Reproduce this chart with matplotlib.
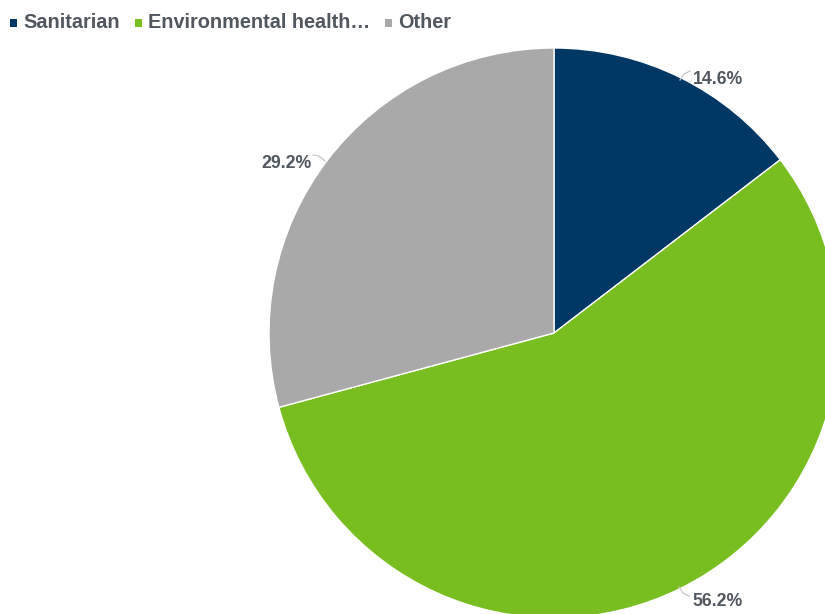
import matplotlib
matplotlib.use("Agg")
import matplotlib.pyplot as plt
from matplotlib.patches import Rectangle

categories = ["Sanitarian", "Environmental health…", "Other"]
values = [14.6, 56.2, 29.2]
labels = ["14.6%", "56.2%", "29.2%"]
colors = ["#003865", "#78BE20", "#A9A9A9"]
text_color = "#50575F"

W, H = 825, 614
fig = plt.figure(figsize=(W / 100, H / 100), dpi=100)
ax = fig.add_axes([0, 0, 1, 1])
ax.set_xlim(0, W)
ax.set_ylim(H, 0)
ax.axis("off")

cx, cy, r = 554, 333, 285
# y axis inverted -> counterclock=True gives visual clockwise
wedges, _ = ax.pie(values, colors=colors, startangle=-90, counterclock=True,
                   center=(cx, cy), radius=r, frame=True,
                   wedgeprops=dict(edgecolor="white", linewidth=1))
ax.set_xlim(0, W)
ax.set_ylim(H, 0)
ax.axis("off")

font = ["Liberation Sans", "DejaVu Sans"]

# data labels with leader lines
label_pos = [(718, 80), (718, 601), (286, 163)]
leaders = [[(680, 80), (684, 74), (690, 71)],
           [(679, 587), (683, 593), (689, 596)],
           [(313, 155), (319, 156), (325, 161)]]
for (tx, ty), lab, ld in zip(label_pos, labels, leaders):
    ax.text(tx, ty, lab, ha="center", va="center", fontsize=12.7,
            fontweight="bold", color=text_color, family=font)
    xs, ys = zip(*ld)
    ax.plot(xs, ys, color="#C8C8C8", lw=0.9)

# legend drawn manually
leg_x = [10, 135, 385]
for x0, cat, col in zip(leg_x, categories, colors):
    ax.add_patch(Rectangle((x0, 19), 7, 8, color=col, lw=0))
    ax.text(x0 + 13, 22, cat, ha="left", va="center", fontsize=14.3,
            fontweight="bold", color=text_color, family=font)

fig.savefig("out.png", dpi=100)
